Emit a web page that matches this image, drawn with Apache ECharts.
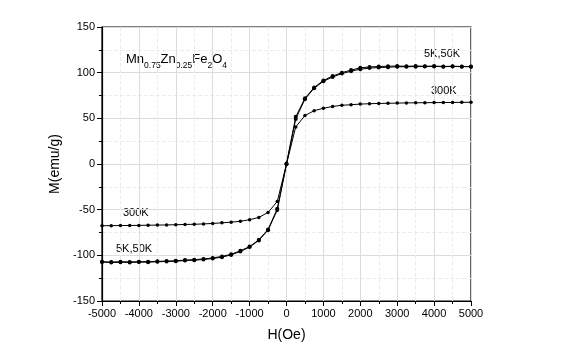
<!DOCTYPE html>
<html>
<head>
<meta charset="utf-8">
<script src="https://cdn.jsdelivr.net/npm/echarts@6/dist/echarts.min.js"></script>
<style>
  html, body { margin: 0; padding: 0; background: #fff; }
  #chart { width: 564px; height: 349px; }
</style>
</head>
<body>
<div id="chart"></div>
<script>
// Applied field H (Oe)
const fieldOe = [
  -5000, -4750, -4500, -4250, -4000, -3750, -3500, -3250, -3000, -2750,
  -2500, -2250, -2000, -1750, -1500, -1250, -1000, -750, -500, -250,
  0,
  250, 500, 750, 1000, 1250, 1500, 1750, 2000, 2250, 2500,
  2750, 3000, 3250, 3500, 3750, 4000, 4250, 4500, 4750, 5000
];

// Magnetisation M (emu/g) at 5 K
const m5K = [
  -107.4, -107.9, -107.6, -107.8, -107.4, -107.5, -107.0, -106.8, -106.5, -105.7,
  -105.3, -104.6, -103.5, -102.0, -99.5, -95.8, -91.0, -83.7, -72.4, -50.5,
  0.5,
  51.6, 72.0, 83.8, 91.5, 96.3, 100.0, 102.8, 105.3, 106.2, 106.8,
  107.0, 107.3, 107.0, 107.3, 107.0, 107.2, 106.8, 107.0, 106.8, 106.7
];

// Magnetisation M (emu/g) at 50 K
const m50K = [
  -107.0, -107.3, -107.0, -107.2, -107.0, -106.9, -106.6, -106.3, -105.9, -105.2,
  -104.7, -104.0, -102.8, -101.2, -98.8, -95.0, -90.4, -83.0, -71.6, -49.0,
  -0.3,
  49.3, 71.0, 83.0, 90.6, 95.2, 99.0, 101.6, 103.8, 105.0, 105.6,
  106.0, 106.4, 106.5, 106.6, 106.7, 106.8, 106.6, 106.8, 106.6, 106.5
];

// Magnetisation M (emu/g) at 300 K
const m300K = [
  -67.6, -67.5, -67.4, -67.3, -67.2, -67.0, -66.9, -66.7, -66.5, -66.2,
  -66.0, -65.6, -65.1, -64.4, -63.7, -62.7, -61.0, -58.5, -53.0, -41.0,
  0.0,
  40.6, 53.0, 58.4, 61.0, 63.0, 64.3, 64.9, 65.6, 66.0, 66.3,
  66.5, 66.7, 66.9, 67.0, 67.1, 67.2, 67.3, 67.4, 67.5, 67.6
];

const FONT = '"Liberation Sans", Arial, sans-serif';

function pairs(xs, ys) {
  return xs.map((x, i) => [x, ys[i]]);
}

const chart = echarts.init(document.getElementById('chart'), null, { renderer: 'canvas' });

const axisCommon = {
  axisLine: { show: true, onZero: false, lineStyle: { color: '#000', width: 1.2 } },
  axisTick: { show: true, inside: false, length: 5, lineStyle: { color: '#000', width: 1 } },
  minorTick: { show: true, splitNumber: 2, length: 3, lineStyle: { color: '#000', width: 1 } },
  splitLine: { show: true, lineStyle: { color: '#dcdcdc', width: 1 } },
  minorSplitLine: { show: true, lineStyle: { color: '#ececec', width: 1, type: 'dashed' } },
  axisLabel: { color: '#000', fontFamily: FONT, fontSize: 11, margin: 7, formatter: v => String(v) },
  nameTextStyle: { color: '#000', fontFamily: FONT, fontSize: 14 }
};

const lineSeries = (name, ys, size, width) => ({
  name: name,
  type: 'line',
  data: pairs(fieldOe, ys),
  symbol: 'circle',
  symbolSize: size,
  showSymbol: true,
  itemStyle: { color: '#000' },
  lineStyle: { color: '#000', width: width },
  animation: false
});

chart.setOption({
  backgroundColor: '#fff',
  animation: false,
  grid: {
    left: 102, right: 93, top: 27, bottom: 48,
    show: true, borderColor: '#000', borderWidth: 1.2, backgroundColor: 'transparent'
  },
  xAxis: Object.assign({}, axisCommon, {
    type: 'value',
    min: -5000, max: 5000, interval: 1000,
    name: 'H(Oe)', nameLocation: 'middle', nameGap: 27
  }),
  yAxis: Object.assign({}, axisCommon, {
    type: 'value',
    min: -150, max: 150, interval: 50,
    name: 'M(emu/g)', nameLocation: 'middle', nameGap: 36
  }),
  series: [
    lineSeries('300K', m300K, 3.5, 1),
    lineSeries('50K', m50K, 4, 1),
    lineSeries('5K', m5K, 4, 1)
  ],
  graphic: [
    {
      type: 'text', left: 126, top: 53,
      style: {
        text: '{m|Mn}{s|0.75}{m|Zn}{s|0.25}{m|Fe}{s|2}{m|O}{s|4}',
        rich: {
          m: { fontFamily: FONT, fontSize: 13, fill: '#000', color: '#000', verticalAlign: 'top', lineHeight: 19 },
          s: { fontFamily: FONT, fontSize: 8.5, fill: '#000', color: '#000', verticalAlign: 'top', lineHeight: 19, padding: [8, 0, 0, 0] }
        }
      }
    },
    { type: 'text', left: 424, top: 48, style: { text: '5K,50K', fontFamily: FONT, fontSize: 11, fill: '#000' } },
    { type: 'text', left: 431, top: 85, style: { text: '300K', fontFamily: FONT, fontSize: 11, fill: '#000' } },
    { type: 'text', left: 123, top: 207, style: { text: '300K', fontFamily: FONT, fontSize: 11, fill: '#000' } },
    { type: 'text', left: 116, top: 243, style: { text: '5K,50K', fontFamily: FONT, fontSize: 11, fill: '#000' } }
  ]
});
</script>
</body>
</html>
